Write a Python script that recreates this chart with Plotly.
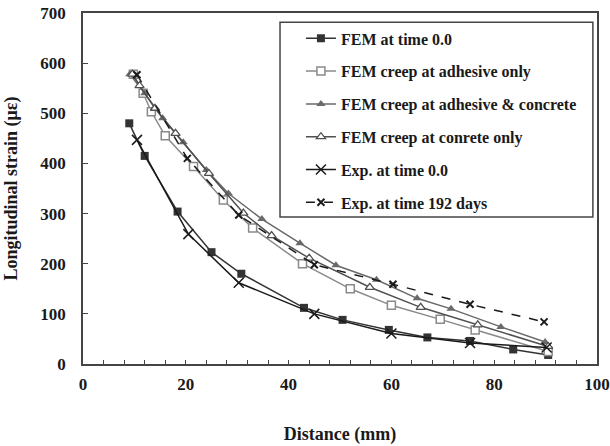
import plotly.graph_objects as go

# FEM at time 0.0
fem0_x = [9, 12, 18.4, 25, 30.8, 43, 50.5, 59.5, 67, 75.3, 83.7, 90.5]
fem0_y = [480, 415, 304, 223, 180, 112, 88, 68, 53, 46, 29, 18]

# FEM creep at adhesive only
adh_x = [9.8, 11.7, 13.3, 16, 21.5, 27.3, 33, 42.7, 52, 60, 69.5, 76.3, 90.5]
adh_y = [578, 540, 503, 455, 394, 327, 271, 200, 150, 117, 89, 68, 25]

# FEM creep at adhesive & concrete
adc_x = [9.1, 12, 15.5, 19.5, 24, 28.3, 34.8, 42.2, 49.2, 57.1, 65, 71.6, 81.3, 89.9]
adc_y = [578, 540, 490, 442, 387, 340, 289, 241, 197, 168, 131, 110, 74, 44]

# FEM creep at conrete only
con_x = [9.6, 11, 14, 18, 24.5, 31.2, 36.7, 44, 55.8, 65.7, 76.8, 90.5]
con_y = [578, 555, 510, 460, 380, 301, 256, 211, 153, 113, 78, 35]

# Exp. at time 0.0
exp0_x = [10.5, 20.5, 30.3, 45, 60, 75.3, 90.2]
exp0_y = [447, 259, 162, 100, 61, 42, 33]

# Exp. at time 192 days
exp192_x = [10.5, 20.3, 30.3, 45, 60.3, 75.3, 89.7]
exp192_y = [577, 410, 297, 198, 159, 119, 84]

FONT = "Liberation Serif"

fig = go.Figure()
fig.add_trace(go.Scatter(
    x=fem0_x, y=fem0_y, mode="lines+markers", name="<b>FEM at time 0.0</b>",
    legendgroup="a",
    line=dict(color="#333333", width=1.5),
    marker=dict(symbol="square", size=8, color="#333333")))
fig.add_trace(go.Scatter(
    x=adh_x, y=adh_y, mode="lines+markers", name="<b>FEM creep at adhesive only</b>",
    legendgroup="b",
    line=dict(color="#8a8a8a", width=1.5),
    marker=dict(symbol="square", size=8, color="white", line=dict(color="#8a8a8a", width=1.5))))
fig.add_trace(go.Scatter(
    x=adc_x, y=adc_y, mode="lines+markers", name="<b>FEM creep at adhesive &amp; concrete</b>",
    legendgroup="c",
    line=dict(color="#6a6a6a", width=1.5),
    marker=dict(symbol="triangle-up", size=8, color="#6a6a6a")))
fig.add_trace(go.Scatter(
    x=con_x, y=con_y, mode="lines+markers", name="<b>FEM creep at conrete only</b>",
    legendgroup="d",
    line=dict(color="#505050", width=1.5),
    marker=dict(symbol="triangle-up", size=8, color="white", line=dict(color="#505050", width=1.3))))
fig.add_trace(go.Scatter(
    x=exp0_x, y=exp0_y, mode="lines+markers", name="<b>Exp. at time 0.0</b>",
    legendgroup="e",
    line=dict(color="#1a1a1a", width=1.5),
    marker=dict(symbol="x-thin", size=10, line=dict(color="#1a1a1a", width=1.5))))
fig.add_trace(go.Scatter(
    x=exp192_x, y=exp192_y, mode="lines+markers", name="<b>Exp. at time 192 days</b>",
    legendgroup="f",
    line=dict(color="#1a1a1a", width=1.5, dash="dash"),
    marker=dict(symbol="x-thin", size=7, line=dict(color="#1a1a1a", width=2))))

# legend frame (styling only)
fig.add_shape(type="rect", xref="paper", yref="paper",
              x0=0.3833, x1=0.992, y0=0.419, y1=0.974,
              fillcolor="white", line=dict(color="#444444", width=1.5), layer="above")

fig.update_layout(
    width=610, height=446,
    margin=dict(l=83, r=13, t=13, b=82),
    paper_bgcolor="white", plot_bgcolor="white",
    font=dict(family=FONT, size=16, color="#1a1a1a"),
    showlegend=True,
    legend=dict(
        x=0.424, y=0.976, xanchor="left", yanchor="top",
        bgcolor="rgba(0,0,0,0)", borderwidth=0,
        font=dict(family=FONT, size=16, color="#1a1a1a"),
        traceorder="grouped", tracegroupgap=9,
    ),
    xaxis=dict(
        range=[0, 100], dtick=20, tick0=0, automargin=False,
        ticks="inside", ticklen=4, tickcolor="#444444",
        minor=dict(dtick=4, ticks="inside", ticklen=4, tickcolor="#444444"),
        showgrid=False, zeroline=False,
        showline=True, linecolor="#444444", linewidth=1.5, mirror=True,
        tickfont=dict(family=FONT, size=17, color="#1a1a1a"),
        tickprefix="<b>", ticksuffix="</b>", ticklabelstandoff=4,
        title=dict(text="<b>Distance (mm)</b>", font=dict(family=FONT, size=18), standoff=34),
    ),
    yaxis=dict(
        range=[0, 700], dtick=100, tick0=0, automargin=False,
        ticks="inside", ticklen=5, tickcolor="#444444",
        showgrid=False, zeroline=False,
        showline=True, linecolor="#444444", linewidth=1.5, mirror=True,
        tickfont=dict(family=FONT, size=17, color="#1a1a1a"),
        tickprefix="<b>", ticksuffix="</b>", ticklabelstandoff=12,
        title=dict(text="<b>Longitudinal strain (με)</b>", font=dict(family=FONT, size=18), standoff=18),
    ),
)

fig.write_html("out.html")
